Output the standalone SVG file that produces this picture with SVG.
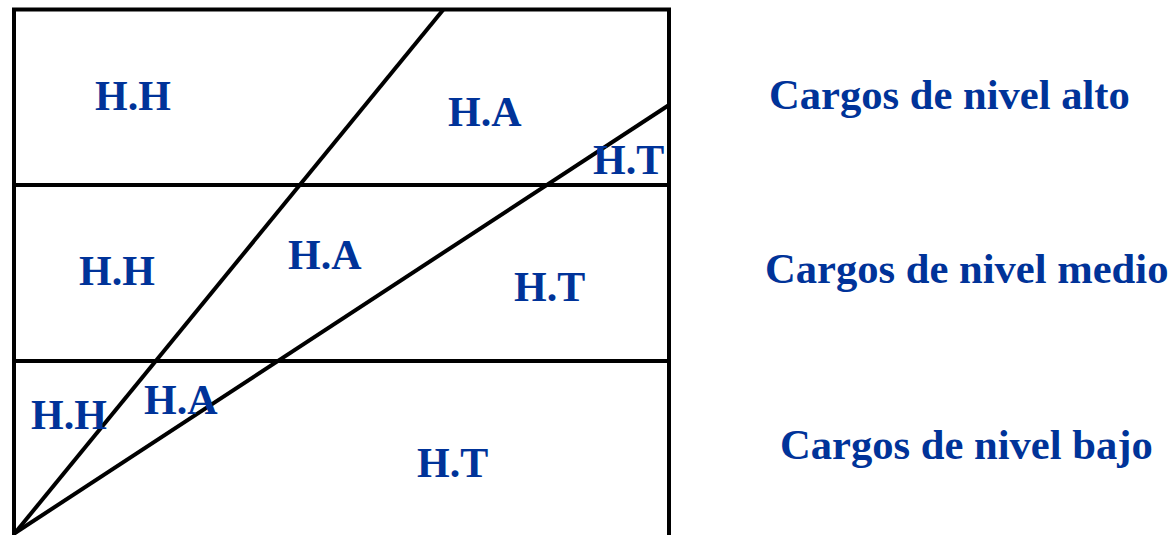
<svg xmlns="http://www.w3.org/2000/svg" width="1171" height="535" viewBox="0 0 1171 535">
<style>
.ln{stroke:#000;stroke-width:4;fill:none}
.t{font-family:"Liberation Serif","Times New Roman",serif;font-weight:bold;font-size:42px;fill:#003399}
.lb{font-size:42.6px}
</style>
<rect width="1171" height="535" fill="#fff"/>
<g id="connectors">
<polyline class="ln" points="14,535 14,9.5 669,9.5 669,535"/>
<line class="ln" x1="12" y1="185" x2="671" y2="185"/>
<line class="ln" x1="12" y1="361" x2="671" y2="361"/>
<line class="ln" x1="15" y1="533" x2="443" y2="10"/>
<line class="ln" x1="15" y1="533" x2="669" y2="105"/>
</g>
<g id="top">
<text class="t" x="95" y="110">H.H</text>
<text class="t" x="448" y="126">H.A</text>
<text class="t" x="593" y="174">H.T</text>
</g>
<g id="middle">
<text class="t" x="79" y="285">H.H</text>
<text class="t" x="288" y="269">H.A</text>
<text class="t" x="514" y="301">H.T</text>
</g>
<g id="bottom">
<text class="t" x="31" y="429">H.H</text>
<text class="t" x="144" y="414">H.A</text>
<text class="t" x="417" y="477">H.T</text>
</g>
<g id="labels">
<text class="t lb" x="769" y="109">Cargos de nivel alto</text>
<text class="t lb" x="765" y="283">Cargos de nivel medio</text>
<text class="t lb" x="780" y="459">Cargos de nivel bajo</text>
</g>
</svg>
